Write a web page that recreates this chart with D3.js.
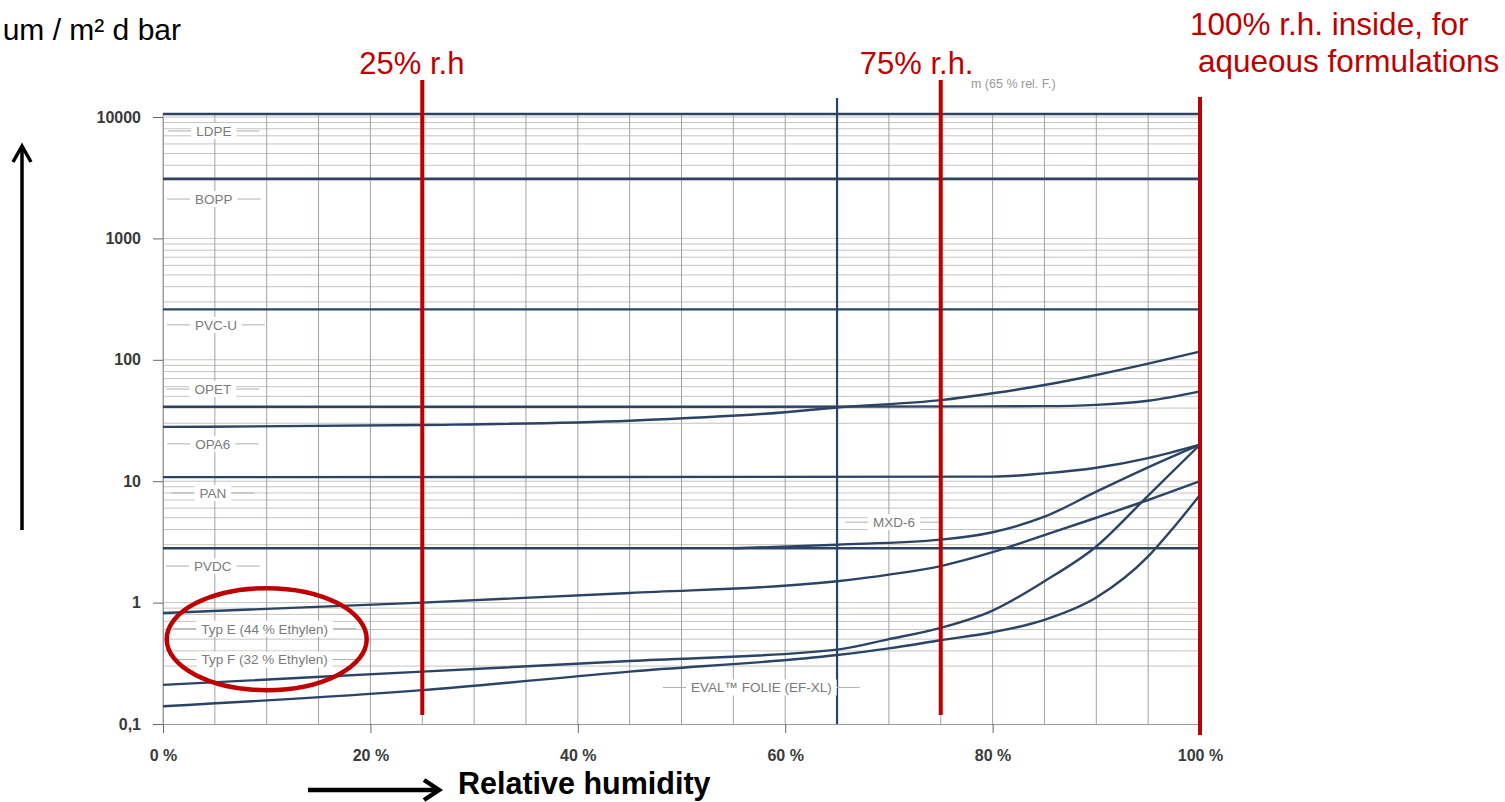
<!DOCTYPE html>
<html>
<head>
<meta charset="utf-8">
<script src="https://cdn.jsdelivr.net/npm/d3@7"></script>
<style>
  body { margin: 0; background: #fff; overflow: hidden; }
  text { font-family: "Liberation Sans", Arial, Helvetica, sans-serif; }
</style>
</head>
<body>
<script>
//==========================================================================//
//  DATA
//==========================================================================//

// axis ticks
var rhTicks = [0, 20, 40, 60, 80, 100];
var permTicks = [0.1, 1, 10, 100, 1000, 10000];
var gridSteps = [0, 5, 10, 15, 20, 25, 30, 35, 40, 45, 50, 55, 60, 65, 70, 75, 80, 85, 90, 95, 100];
var minorMult = [1, 3, 4, 5, 6, 7, 8, 9];

// permeation curves, [relative humidity %, permeation]
var ldpe  = [[0, 10600], [100, 10600]];
var bopp  = [[0, 3100], [100, 3100]];
var pvcu  = [[0, 260], [100, 260]];
var opet  = [[0, 41], [50, 41], [85, 41.5], [90, 42.5], [95, 46], [100, 55]];
var opa6  = [[0, 28], [25, 29], [45, 31.5], [60, 37], [65, 40.5], [75, 46.5], [80, 53], [85, 62], [90, 75], [95, 93], [100, 117]];
var pan   = [[0, 10.8], [80, 10.9], [85, 11.6], [90, 12.9], [95, 15.5], [100, 20]];
var pvdc  = [[0, 2.8], [100, 2.8]];
var mxd6  = [[55, 2.8], [65, 3.0], [75, 3.3], [80, 3.8], [85, 5.1], [90, 8.2], [95, 13], [100, 20]];
var typE  = [[0, 0.82], [25, 1.0], [45, 1.2], [65, 1.5], [70, 1.7], [75, 2.0], [80, 2.6], [85, 3.6], [90, 5.0], [95, 7.0], [100, 10]];
var typF  = [[0, 0.21], [25, 0.27], [45, 0.33], [65, 0.41], [70, 0.5], [75, 0.62], [80, 0.86], [85, 1.5], [90, 2.9], [95, 7.6], [100, 20]];
var evalF = [[0, 0.14], [25, 0.19], [45, 0.27], [65, 0.37], [70, 0.42], [75, 0.49], [80, 0.57], [85, 0.72], [90, 1.1], [95, 2.4], [97.5, 4.2], [100, 7.7]];

// curve labels and where they sit (rh %, permeation)
var seriesLabels = ["LDPE", "BOPP", "PVC-U", "OPET", "OPA6", "PAN", "PVDC",
                    "Typ E (44 % Ethylen)", "Typ F (32 % Ethylen)", "MXD-6", "EVAL\u2122 FOLIE (EF-XL)"];
var labelRh  = [4.9, 4.9, 5.1, 4.8, 4.8, 4.8, 4.8, 9.8, 9.8, 70.5, 57.7];
var labelVal = [7670, 2110, 194, 57.4, 20.3, 8.0, 2.0, 0.61, 0.34, 4.6, 0.20];

// red humidity markers
var markRh = [25, 75, 100];
var markText = ["25% r.h", "75% r.h.", ""];

//==========================================================================//
//  INITIALIZATION OF GRAPH
//==========================================================================//

var margin = {left: 163, right: 305, top: 117, bottom: 78},
    width = 1505 - margin.left - margin.right,
    height = 802 - margin.top - margin.bottom;

var root = d3.select("body")
    .append("svg")
    .attr("width", 1505)
    .attr("height", 802);

var svg = root.append("g")
    .attr("transform", "translate(" + margin.left + "," + margin.top + ")");

var x = d3.scaleLinear().domain([0, 100]).range([0, width]);
var y = d3.scaleLog().domain([0.1, 10000]).range([height, 0]);

var navy = "#2b4466";
var red = "#c00000";
var topY = y(ldpe[0][1]);

// horizontal minor grid
var minorVals = [];
[0.1, 1, 10, 100, 1000].forEach(function(dec) {
    minorMult.forEach(function(m) { if (dec * m > 0.1) minorVals.push(dec * m); });
});
minorVals.push(10000);

svg.selectAll("line.hgrid")
    .data(minorVals)
    .join("line")
    .attr("class", "hgrid")
    .attr("x1", 0).attr("x2", width)
    .attr("y1", function(d) { return y(d); })
    .attr("y2", function(d) { return y(d); })
    .attr("stroke", "#c6c4bf")
    .attr("stroke-width", 1);

// vertical grid
svg.selectAll("line.vgrid")
    .data(gridSteps)
    .join("line")
    .attr("class", "vgrid")
    .attr("x1", function(d) { return x(d); })
    .attr("x2", function(d) { return x(d); })
    .attr("y1", topY).attr("y2", height)
    .attr("stroke", "#9ea2ac")
    .attr("stroke-width", 1);

// axes
var xAxis = svg.append("g")
    .attr("transform", "translate(0," + height + ")")
    .call(d3.axisBottom(x).tickValues(rhTicks).tickSize(9).tickSizeOuter(0).tickPadding(17)
        .tickFormat(function(d) { return d + " %"; }));

var yAxis = svg.append("g")
    .call(d3.axisLeft(y).tickValues(permTicks).tickSize(10).tickSizeOuter(0).tickPadding(12)
        .tickFormat(function(d) { return d < 1 ? "0,1" : d3.format("d")(d); }));

[xAxis, yAxis].forEach(function(a) {
    a.select(".domain").attr("stroke", "#9a9a9a");
    a.selectAll(".tick line").attr("stroke", "#666");
    a.selectAll(".tick text")
        .attr("fill", "#3a3a3a")
        .style("font-size", "16px")
        .style("font-weight", "bold")
        .style("font-family", "'Liberation Sans', Arial, sans-serif");
});

// 65 % reference line
svg.append("line")
    .attr("x1", x(65)).attr("x2", x(65))
    .attr("y1", topY - 16).attr("y2", height)
    .attr("stroke", navy)
    .attr("stroke-width", 2.2);

svg.append("text")
    .attr("x", x(82)).attr("y", -29)
    .attr("text-anchor", "middle")
    .attr("fill", "#999")
    .style("font-size", "12.5px")
    .text("m (65 % rel. F.)");

// curves
var line = d3.line()
    .x(function(d) { return x(d[0]); })
    .y(function(d) { return y(d[1]); })
    .curve(d3.curveMonotoneX);

var curves = [ldpe, bopp, pvcu, opet, opa6, pan, pvdc, mxd6, typE, typF, evalF];

svg.selectAll("path.curve")
    .data(curves)
    .join("path")
    .attr("class", "curve")
    .attr("d", line)
    .attr("fill", "none")
    .attr("stroke", navy)
    .attr("stroke-width", 2.4);

// curve labels, white boxes on the grid
var lbl = svg.selectAll("g.lbl")
    .data(seriesLabels)
    .join("g")
    .attr("class", "lbl")
    .attr("transform", function(d, i) { return "translate(" + x(labelRh[i]) + "," + y(labelVal[i]) + ")"; });

lbl.append("line").attr("class", "dash")
    .attr("stroke", "#b0b0b0").attr("stroke-width", 1);
lbl.append("rect").attr("fill", "#fff");
lbl.append("text")
    .attr("text-anchor", "middle")
    .attr("dy", "0.36em")
    .attr("fill", "#7a7a7a")
    .style("font-size", "13.5px")
    .text(function(d) { return d; });

lbl.each(function(d, i) {
    var g = d3.select(this);
    var w = g.select("text").node().getComputedTextLength();
    var left = Math.max(-w / 2 - 28, -x(labelRh[i]));
    g.select("rect").attr("x", -w / 2 - 5).attr("y", -8).attr("width", w + 10).attr("height", 16);
    g.select("line.dash").attr("x1", left).attr("x2", w / 2 + 28);
});

// red humidity markers
svg.selectAll("line.mark")
    .data(markRh)
    .join("line")
    .attr("class", "mark")
    .attr("x1", function(d) { return x(d); })
    .attr("x2", function(d) { return x(d); })
    .attr("y1", function(d) { return d == 100 ? -20 : -37; })
    .attr("y2", function(d) { return d == 100 ? height + 11 : height - 9; })
    .attr("stroke", red)
    .attr("stroke-width", 4);

svg.selectAll("text.mark")
    .data(markText)
    .join("text")
    .attr("class", "mark")
    .attr("x", function(d, i) { return x(markRh[i]) - (i == 0 ? 63 : 81); })
    .attr("y", -43)
    .attr("fill", red)
    .style("font-size", "31px")
    .text(function(d) { return d; });

svg.append("text")
    .attr("x", x(100) - 10).attr("y", -82)
    .attr("fill", red)
    .style("font-size", "31.5px")
    .text("100% r.h. inside, for");

svg.append("text")
    .attr("x", x(100) - 2).attr("y", -45)
    .attr("fill", red)
    .style("font-size", "31.5px")
    .text("aqueous formulations");

// red ellipse around the EVAL types
svg.append("ellipse")
    .attr("cx", x(10)).attr("cy", y(0.5))
    .attr("rx", 100).attr("ry", 51)
    .attr("fill", "none")
    .attr("stroke", red)
    .attr("stroke-width", 4.5);

//==========================================================================//
//  AXIS TITLES AND ARROWS
//==========================================================================//

root.append("text")
    .attr("x", 181).attr("y", 40)
    .attr("text-anchor", "end")
    .attr("fill", "#000")
    .style("font-size", "30px")
    .text("um / m\u00b2 d bar");

root.append("text")
    .attr("x", 458).attr("y", 794)
    .attr("fill", "#000")
    .style("font-size", "30.5px")
    .style("font-weight", "bold")
    .text("Relative humidity");

// up arrow
root.append("line")
    .attr("x1", 22).attr("x2", 22).attr("y1", 530).attr("y2", 147)
    .attr("stroke", "#000").attr("stroke-width", 3.5);
root.append("path")
    .attr("d", "M13,162 L22,146 L31,162")
    .attr("fill", "none").attr("stroke", "#000").attr("stroke-width", 3.5);

// right arrow
root.append("line")
    .attr("x1", 308).attr("x2", 438).attr("y1", 790).attr("y2", 790)
    .attr("stroke", "#000").attr("stroke-width", 4.5);
root.append("path")
    .attr("d", "M424,780 L439,790 L424,800")
    .attr("fill", "none").attr("stroke", "#000").attr("stroke-width", 4.5);
</script>
</body>
</html>
